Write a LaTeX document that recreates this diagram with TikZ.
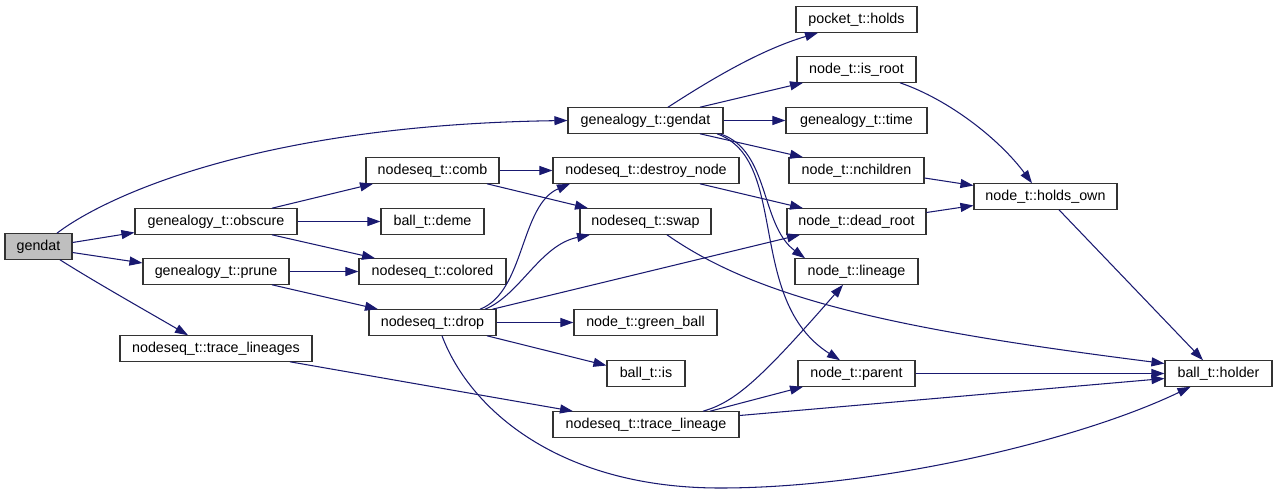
\documentclass[tikz,border=0pt]{standalone}
\usepackage{fontspec}
\setmainfont{Liberation Sans}
\usetikzlibrary{arrows.meta,calc}
\definecolor{edgec}{HTML}{191970}
\definecolor{boxc}{HTML}{333333}
\definecolor{rootfill}{HTML}{BFBFBF}
\begin{document}
\begin{tikzpicture}[x=1pt,y=-1pt,
  fn/.style={draw=boxc, line width=1.1pt, fill=white, inner sep=0pt,
    minimum height=25.5pt, text height=10.3pt, text depth=3pt,
    font=\fontsize{14.3}{16}\selectfont},
  rootfn/.style={fn, fill=rootfill},
  ed/.style={draw=edgec, line width=1.05pt, -{Triangle[length=13pt,width=9pt]}}]
\useasboundingbox[fill=white] (0,0) rectangle (1277,493);

% nodes
\node[rootfn, minimum width=67]  (gendat)  at (38.5,246.5)  {gendat};
\node[fn, minimum width=162] (obscure) at (216,221.5)   {genealogy\_t::obscure};
\node[fn, minimum width=146] (prune)   at (216,271.5) {genealogy\_t::prune};
\node[fn, minimum width=192] (tls)     at (216,348.5)   {nodeseq\_t::trace\_lineages};
\node[fn, minimum width=133] (comb)    at (432.5,170.5) {nodeseq\_t::comb};
\node[fn, minimum width=103] (deme)    at (432.5,221.5)   {ball\_t::deme};
\node[fn, minimum width=147] (colored) at (432.5,271.5) {nodeseq\_t::colored};
\node[fn, minimum width=127] (drop)    at (432.5,322.5)   {nodeseq\_t::drop};
\node[fn, minimum width=155] (gg)      at (645.5,120.5)   {genealogy\_t::gendat};
\node[fn, minimum width=186] (dn)      at (646,170.5)   {nodeseq\_t::destroy\_node};
\node[fn, minimum width=131] (swap)    at (645.5,221.5)   {nodeseq\_t::swap};
\node[fn, minimum width=143] (gb)      at (645.5,322.5)   {node\_t::green\_ball};
\node[fn, minimum width=78]  (bis)     at (646,373.5)     {ball\_t::is};
\node[fn, minimum width=186] (tl)      at (646,424.5)     {nodeseq\_t::trace\_lineage};
\node[fn, minimum width=121] (pocket)  at (856.5,19.5)    {pocket\_t::holds};
\node[fn, minimum width=119] (isroot)  at (856.5,69.5)  {node\_t::is\_root};
\node[fn, minimum width=141] (time)    at (856.5,120.5)   {genealogy\_t::time};
\node[fn, minimum width=135] (nch)     at (856.5,170.5) {node\_t::nchildren};
\node[fn, minimum width=139] (dead)    at (856.5,221.5)   {node\_t::dead\_root};
\node[fn, minimum width=123] (lin)     at (856.5,271.5) {node\_t::lineage};
\node[fn, minimum width=117] (par)     at (856.5,373.5)   {node\_t::parent};
\node[fn, minimum width=143] (ho)      at (1045.5,196.5)  {node\_t::holds\_own};
\node[fn, minimum width=107] (holder)  at (1218.5,373.5)  {ball\_t::holder};

% edges
\draw[ed] ($(gendat.north)+(18.5,0)$) .. controls (100,200) and (250,125) .. (gg.west);
\draw[ed] ($(gendat.east)+(0,-4)$) -- ($(obscure.west)+(0,11)$);
\draw[ed] ($(gendat.east)+(0,6)$) -- ($(prune.west)+(0,-8.5)$);
\draw[ed] ($(gendat.south)+(21.5,0)$) .. controls (95,282) and (150,313) .. ($(tls.north)+(-28,0)$);
\draw[ed] ($(obscure.north)+(56,0)$) -- ($(comb.south)+(-59.5,0)$);
\draw[ed] (obscure.east) -- (deme.west);
\draw[ed] ($(obscure.south)+(56,0)$) -- ($(colored.north)+(-57.5,0)$);
\draw[ed] (prune.east) -- (colored.west);
\draw[ed] ($(prune.south)+(56,0)$) -- ($(drop.north)+(-54.5,0)$);
\draw[ed] (comb.east) -- (dn.west);
\draw[ed] ($(comb.south)+(54.5,0)$) -- ($(swap.north)+(-57.5,0)$);
\draw[ed] ($(drop.north)+(47.5,0)$) .. controls (525,292) and (520,205) .. ($(dn.south)+(-76,0)$);
\draw[ed] ($(drop.north)+(52.5,0)$) .. controls (520,295) and (540,245) .. ($(swap.south)+(-55.5,0)$);
\draw[ed] ($(drop.north)+(60,0)$) -- ($(dead.south)+(-56.5,0)$);
\draw[ed] (drop.east) -- (gb.west);
\draw[ed] ($(drop.south)+(54.5,0)$) -- ($(bis.west)+(0,-8)$);
\draw[ed] ($(drop.south)+(9.5,0)$) .. controls (470,410) and (560,488) .. (720,488)
   .. controls (880,488) and (1080,440) .. ($(holder.south)+(-28,0)$);
\draw[ed] ($(tls.south)+(74,0)$) -- ($(tl.north)+(-73,0)$);
\draw[ed] ($(tl.north)+(57,0)$) .. controls (735,402) and (760,380) .. ($(lin.south)+(-13.5,0)$);
\draw[ed] ($(tl.north)+(64,0)$) -- ($(par.south)+(-53.5,0)$);
\draw[ed] ($(tl.east)+(0,-9)$) -- ($(holder.west)+(0,5)$);
\draw[ed] ($(gg.north)+(22.5,0)$) .. controls (710,80) and (760,50) .. ($(pocket.south)+(-38.5,0)$);
\draw[ed] ($(gg.north)+(54.5,0)$) -- ($(isroot.south)+(-53.5,0)$);
\draw[ed] (gg.east) -- (time.west);
\draw[ed] ($(gg.south)+(54.5,0)$) -- ($(nch.north)+(-53.5,0)$);
\draw[ed] ($(gg.south)+(74.5,0)$) .. controls (770,150) and (760,225) .. ($(lin.north)+(-51.5,0)$);
\draw[ed] ($(gg.south)+(71.5,0)$) .. controls (790,160) and (745,300) .. ($(par.north)+(-16.5,0)$);
\draw[ed] ($(dn.south)+(54,0)$) -- ($(dead.north)+(-53.5,0)$);
\draw[ed] ($(nch.east)+(0,7.5)$) -- ($(ho.west)+(0,-11)$);
\draw[ed] ($(dead.east)+(0,-9)$) -- ($(ho.west)+(0,9)$);
\draw[ed] ($(isroot.south)+(43.5,0)$) .. controls (950,100) and (1000,140) .. ($(ho.north)+(-13.5,0)$);
\draw[ed] ($(ho.south)+(13.5,0)$) -- ($(holder.north)+(-15.5,0)$);
\draw[ed] ($(swap.south)+(21.5,0)$) .. controls (760,300) and (900,330) .. ($(holder.west)+(0,-10)$);
\draw[ed] (par.east) -- (holder.west);
\end{tikzpicture}
\end{document}
